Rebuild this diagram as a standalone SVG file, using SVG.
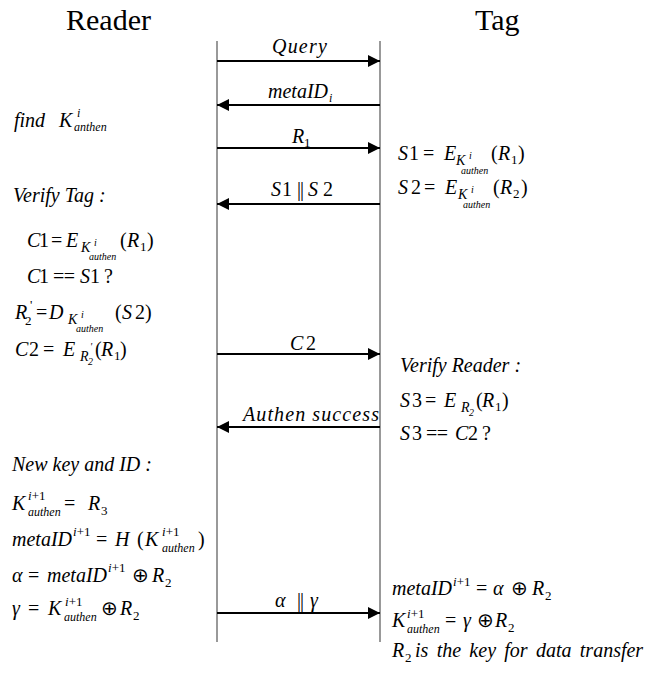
<svg xmlns="http://www.w3.org/2000/svg" width="645" height="673" viewBox="0 0 645 673">
<style>
text { font-family: "Liberation Serif", "Times New Roman", serif; font-size: 20px; fill: #000; }
.title { font-size: 30px; }
.i { font-style: italic; }
.s { font-size: 13px; }
.sk { font-size: 14px; font-style: italic; }
.ss { font-size: 10px; font-style: italic; }
.sa { font-size: 12px; font-style: italic; }
.life { stroke: #555; stroke-width: 1.2; fill: none; }
.msg { stroke: #000; stroke-width: 2; fill: none; marker-end: url(#ah); }
</style>
<defs>
<marker id="ah" markerUnits="userSpaceOnUse" markerWidth="12" markerHeight="12" refX="12" refY="6" orient="auto">
<path d="M0,0 L12,6 L0,12 z" fill="#000"/>
</marker>
</defs>
<rect width="645" height="673" fill="#fff"/>

<g id="reader">
<text class="title" x="66" y="30">Reader</text>
<line class="life" x1="217" y1="41" x2="217" y2="642"/>
</g>
<g id="tag">
<text class="title" x="475" y="30">Tag</text>
<line class="life" x1="380" y1="41" x2="380" y2="642"/>
</g>

<g id="connectors">
<line class="msg" x1="217" y1="61" x2="380" y2="61"/>
<line class="msg" x1="380" y1="105" x2="217" y2="105"/>
<line class="msg" x1="217" y1="148" x2="380" y2="148"/>
<line class="msg" x1="380" y1="204" x2="217" y2="204"/>
<line class="msg" x1="217" y1="354" x2="380" y2="354"/>
<line class="msg" x1="380" y1="427" x2="217" y2="427"/>
<line class="msg" x1="217" y1="613" x2="380" y2="613"/>
<text class="i" x="300" y="53" text-anchor="middle" letter-spacing="1.2">Query</text>
<text y="98"><tspan class="i" x="268">metaID</tspan><tspan class="sa" x="329" y="102">i</tspan></text>
<text y="143"><tspan class="i" x="292">R</tspan><tspan class="s" x="304" y="147">1</tspan></text>
<text y="196"><tspan class="i" x="271">S</tspan><tspan x="282">1</tspan><tspan x="297" letter-spacing="-1">||</tspan><tspan class="i" x="308">S</tspan><tspan x="323">2</tspan></text>
<text y="350"><tspan class="i" x="290">C</tspan><tspan x="306">2</tspan></text>
<text class="i" x="243" y="421" letter-spacing="1.1">Authen success</text>
<text y="607"><tspan class="i" x="275">α</tspan><tspan x="297" letter-spacing="-1">||</tspan><tspan class="i" x="310">γ</tspan></text>
</g>

<g id="reader-steps">
<text y="127"><tspan class="i" x="14">find</tspan><tspan class="i" x="59">K</tspan><tspan class="sa" x="77" y="117">i</tspan><tspan class="sa" x="74" y="131">anthen</tspan></text>
<text class="i" x="13" y="202">Verify Tag :</text>
<text y="247"><tspan class="i" x="27">C</tspan><tspan x="39">1</tspan><tspan x="51">=</tspan><tspan class="i" x="66">E</tspan><tspan class="sk" x="81" y="252">K</tspan><tspan class="ss" x="94" y="246">i</tspan><tspan class="ss" x="89" y="260">authen</tspan><tspan x="120" y="247">(</tspan><tspan class="i" x="127">R</tspan><tspan class="s" x="140" y="251">1</tspan><tspan x="147" y="247">)</tspan></text>
<text y="283"><tspan class="i" x="27">C</tspan><tspan x="39">1</tspan><tspan x="53" letter-spacing="-0.5">==</tspan><tspan class="i" x="80">S</tspan><tspan x="90">1</tspan><tspan x="104">?</tspan></text>
<text y="319"><tspan class="i" x="15">R</tspan><tspan class="s" x="25" y="325">2</tspan><tspan class="s" x="30" y="309">'</tspan><tspan x="36" y="319">=</tspan><tspan class="i" x="49">D</tspan><tspan class="sk" x="68" y="324">K</tspan><tspan class="ss" x="81" y="318">i</tspan><tspan class="ss" x="76" y="332">authen</tspan><tspan x="115" y="319">(</tspan><tspan class="i" x="122">S</tspan><tspan x="135">2</tspan><tspan x="145">)</tspan></text>
<text y="356"><tspan class="i" x="15">C</tspan><tspan x="29">2</tspan><tspan x="43">=</tspan><tspan class="i" x="63">E</tspan><tspan class="sk" x="80" y="361">R</tspan><tspan class="ss" x="88" y="365">2</tspan><tspan class="ss" x="90" y="350">'</tspan><tspan x="95" y="356">(</tspan><tspan class="i" x="101">R</tspan><tspan class="s" x="114" y="360">1</tspan><tspan x="120" y="356">)</tspan></text>
</g>

<g id="reader-update">
<text class="i" x="12" y="471">New key and ID :</text>
<text y="510"><tspan class="i" x="12">K</tspan><tspan class="s" x="28" y="500"><tspan class="i">i</tspan>+1</tspan><tspan class="sa" x="28" y="516">authen</tspan><tspan x="64" y="510">=</tspan><tspan class="i" x="88">R</tspan><tspan class="s" x="101" y="515">3</tspan></text>
<text y="546"><tspan class="i" x="12">metaID</tspan><tspan class="s" x="73" y="536"><tspan class="i">i</tspan>+1</tspan><tspan x="96" y="546">=</tspan><tspan class="i" x="115">H</tspan><tspan x="137">(</tspan><tspan class="i" x="145">K</tspan><tspan class="s" x="162" y="536"><tspan class="i">i</tspan>+1</tspan><tspan class="sa" x="162" y="552">authen</tspan><tspan x="198" y="546">)</tspan></text>
<text y="582"><tspan class="i" x="12">α</tspan><tspan x="28">=</tspan><tspan class="i" x="47">metaID</tspan><tspan class="s" x="108" y="572"><tspan class="i">i</tspan>+1</tspan><tspan x="132" y="582">⊕</tspan><tspan class="i" x="152">R</tspan><tspan class="s" x="165" y="587">2</tspan></text>
<text y="615"><tspan class="i" x="12">γ</tspan><tspan x="28">=</tspan><tspan class="i" x="48">K</tspan><tspan class="s" x="65" y="606"><tspan class="i">i</tspan>+1</tspan><tspan class="sa" x="64" y="621">authen</tspan><tspan x="101" y="615">⊕</tspan><tspan class="i" x="120">R</tspan><tspan class="s" x="133" y="620">2</tspan></text>
</g>

<g id="tag-steps">
<text y="160"><tspan class="i" x="398">S</tspan><tspan x="409">1</tspan><tspan x="423">=</tspan><tspan class="i" x="444">E</tspan><tspan class="sk" x="456" y="165">K</tspan><tspan class="ss" x="469" y="159">i</tspan><tspan class="ss" x="461" y="174">authen</tspan><tspan x="491" y="160">(</tspan><tspan class="i" x="498">R</tspan><tspan class="s" x="511" y="164">1</tspan><tspan x="518" y="160">)</tspan></text>
<text y="194"><tspan class="i" x="398">S</tspan><tspan x="411">2</tspan><tspan x="424">=</tspan><tspan class="i" x="445">E</tspan><tspan class="sk" x="458" y="199">K</tspan><tspan class="ss" x="471" y="193">i</tspan><tspan class="ss" x="463" y="208">authen</tspan><tspan x="493" y="194">(</tspan><tspan class="i" x="500">R</tspan><tspan class="s" x="513" y="198">2</tspan><tspan x="521" y="194">)</tspan></text>
</g>

<g id="tag-verify">
<text class="i" x="400" y="372">Verify Reader :</text>
<text y="407"><tspan class="i" x="400">S</tspan><tspan x="412">3</tspan><tspan x="425">=</tspan><tspan class="i" x="444">E</tspan><tspan class="sk" x="461" y="412">R</tspan><tspan class="ss" x="469" y="416">2</tspan><tspan x="476" y="407">(</tspan><tspan class="i" x="482">R</tspan><tspan class="s" x="495" y="411">1</tspan><tspan x="502" y="407">)</tspan></text>
<text y="440"><tspan class="i" x="400">S</tspan><tspan x="412">3</tspan><tspan x="426" letter-spacing="-0.5">==</tspan><tspan class="i" x="455">C</tspan><tspan x="468">2</tspan><tspan x="482">?</tspan></text>
</g>

<g id="tag-update">
<text y="595"><tspan class="i" x="392">metaID</tspan><tspan class="s" x="453" y="586"><tspan class="i">i</tspan>+1</tspan><tspan x="476" y="595">=</tspan><tspan class="i" x="493">α</tspan><tspan x="511">⊕</tspan><tspan class="i" x="532">R</tspan><tspan class="s" x="545" y="600">2</tspan></text>
<text y="627"><tspan class="i" x="392">K</tspan><tspan class="s" x="407" y="618"><tspan class="i">i</tspan>+1</tspan><tspan class="sa" x="407" y="633">authen</tspan><tspan x="445" y="627">=</tspan><tspan class="i" x="463">γ</tspan><tspan x="477">⊕</tspan><tspan class="i" x="495">R</tspan><tspan class="s" x="508" y="632">2</tspan></text>
<text y="657"><tspan class="i" x="392">R</tspan><tspan class="s" x="405" y="662">2</tspan><tspan class="i" x="415" y="657" word-spacing="3.3">is the key for data transfer</tspan></text>
</g>
</svg>
